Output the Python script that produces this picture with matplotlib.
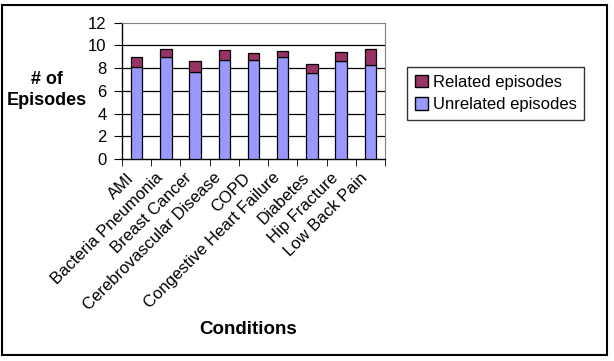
import matplotlib
matplotlib.use("Agg")
import matplotlib.pyplot as plt
from matplotlib.patches import Rectangle, Patch
import numpy as np

conditions = ["AMI", "Bacteria Pneumonia", "Breast Cancer", "Cerebrovascular Disease",
              "COPD", "Congestive Heart Failure", "Diabetes", "Hip Fracture", "Low Back Pain"]
unrelated = [8.06, 8.94, 7.62, 8.68, 8.68, 8.94, 7.54, 8.59, 8.24]
related = [0.88, 0.71, 0.97, 0.88, 0.62, 0.53, 0.79, 0.79, 1.41]
yticks = [0, 2, 4, 6, 8, 10, 12]

plt.rcParams['font.family'] = ['Liberation Sans', 'DejaVu Sans']

fig = plt.figure(figsize=(6.14, 3.61), dpi=100)
fig.patch.set_facecolor("white")
fig.patches.append(Rectangle((2/614, 1-355/361), 605/614, 350/361, transform=fig.transFigure,
                             fill=False, edgecolor="black", linewidth=1.5))

ax = fig.add_axes([122/614, 1-159/361, 263/614, (159-22.7)/361])
x = np.arange(len(conditions))
c_un = "#9999FF"
c_rel = "#993366"
ax.bar(x, unrelated, width=0.39, color=c_un, edgecolor="black", linewidth=0.9, zorder=3)
ax.bar(x, related, bottom=unrelated, width=0.39, color=c_rel, edgecolor="black", linewidth=0.9, zorder=3)

ax.set_xlim(-0.5, len(conditions)-0.5)
ax.set_ylim(0, 12)
ax.set_yticks(yticks)
ax.set_yticklabels([str(v) for v in yticks], fontsize=12)
for v in yticks[1:-1]:
    ax.axhline(v, color="black", linewidth=0.9, zorder=1)

ax.set_xticks(x)
ax.set_xticklabels(conditions, rotation=45, ha="right", va="top", rotation_mode="default", fontsize=12)
ax.tick_params(axis="x", which="major", length=0, pad=8)
ax.set_xticks(np.arange(-0.5, len(conditions)), minor=True)
ax.tick_params(axis="x", which="minor", length=5, direction="out", color="black")
ax.tick_params(axis="y", length=6, direction="out", color="black", pad=5)

for s in ["top", "right"]:
    ax.spines[s].set_color("#808080")
for s in ["left", "bottom"]:
    ax.spines[s].set_color("black")
    ax.spines[s].set_linewidth(1.0)

fig.text(47/614, 1-90/361, "# of\nEpisodes", ha="center", va="center", fontsize=13,
         fontweight="bold", linespacing=1.25)
fig.text(248/614, 1-329/361, "Conditions", ha="center", va="center", fontsize=13.5, fontweight="bold")

handles = [Patch(facecolor=c_rel, edgecolor="black", label="Related episodes"),
           Patch(facecolor=c_un, edgecolor="black", label="Unrelated episodes")]
leg = fig.legend(handles=handles, loc="upper left", bbox_to_anchor=(407/614, 1-67/361),
                 fontsize=12, frameon=True, fancybox=False, handlelength=0.8, handleheight=0.8,
                 handletextpad=0.3, borderpad=0.45, labelspacing=0.45, borderaxespad=0)
leg.get_frame().set_edgecolor("black")
leg.get_frame().set_linewidth(1.0)

fig.savefig("out.png", dpi=100)
